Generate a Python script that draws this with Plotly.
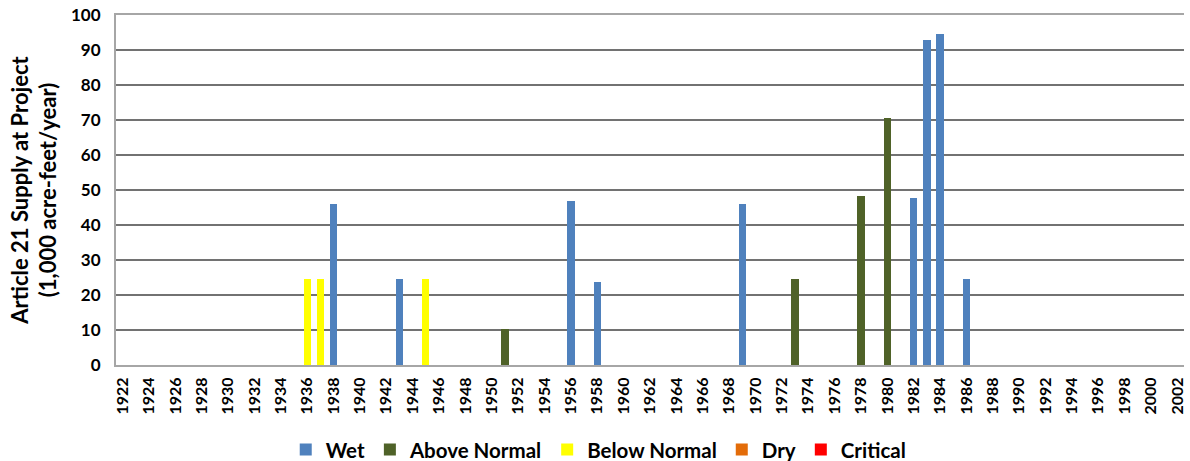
import plotly.graph_objects as go

years = list(range(1922, 2003))
bar_years = [1936, 1937, 1938, 1943, 1945, 1951, 1956, 1958, 1969, 1973, 1978, 1980, 1982, 1983, 1984, 1986]
bar_values = [24.5, 24.5, 46.0, 24.5, 24.5, 10.2, 46.8, 23.7, 46.0, 24.5, 48.3, 70.7, 47.6, 93.0, 94.6, 24.5]
bar_types = ["Below Normal", "Below Normal", "Wet", "Wet", "Below Normal", "Above Normal", "Wet", "Wet",
             "Wet", "Above Normal", "Above Normal", "Above Normal", "Wet", "Wet", "Wet", "Wet"]
type_names = ["Wet", "Above Normal", "Below Normal", "Dry", "Critical"]
type_colors = ["#4F81BD", "#4F6228", "#FFFF00", "#E36C09", "#FF0000"]

font_family = "Lato, 'Open Sans', sans-serif"

fig = go.Figure()
for name, color in zip(type_names, type_colors):
    xs = [str(y) for y in years]
    ys = []
    for y in years:
        v = None
        for by, bv, bt in zip(bar_years, bar_values, bar_types):
            if by == y and bt == name:
                v = bv
        ys.append(v)
    fig.add_trace(go.Bar(x=xs, y=ys, name=name, marker=dict(color=color, line=dict(width=0))))

fig.update_layout(
    width=1190, height=461,
    barmode="stack", bargap=0.45,
    plot_bgcolor="white", paper_bgcolor="white",
    margin=dict(l=116, r=6, t=15, b=96, autoexpand=False),
    font=dict(family=font_family, color="black"),
    legend=dict(orientation="h", x=0.452, xanchor="center", y=-0.242, yanchor="middle",
                font=dict(size=20.5, family=font_family, weight="bold"), traceorder="normal",
                itemwidth=30),
    showlegend=True,
)
fig.update_xaxes(
    type="category", tickangle=-90, automargin=False,
    tickvals=[str(y) for y in years if (y - 1922) % 2 == 0],
    ticktext=[str(y) for y in years if (y - 1922) % 2 == 0],
    tickfont=dict(size=16, family=font_family, weight="bold"),
    showline=True, linecolor="#A6A6A6", linewidth=2, mirror=True,
    showgrid=False, ticks="outside", ticklen=4, tickcolor="white",
)
fig.update_yaxes(
    range=[0, 100], dtick=10, automargin=False,
    tickfont=dict(size=17, family=font_family, weight="bold"),
    showgrid=True, gridcolor="#727272", gridwidth=2,
    showline=True, linecolor="#A6A6A6", linewidth=2,
    zeroline=False, ticks="outside", ticklen=10, tickcolor="white",
    title=dict(text="Article 21 Supply at Project<br>(1,000 acre-feet/year)",
               font=dict(size=22, family=font_family, weight="bold"), standoff=8),
)

fig.write_html("out.html", config={"displayModeBar": False},
               post_script="document.body.style.margin='0';document.body.style.overflow='hidden';")
